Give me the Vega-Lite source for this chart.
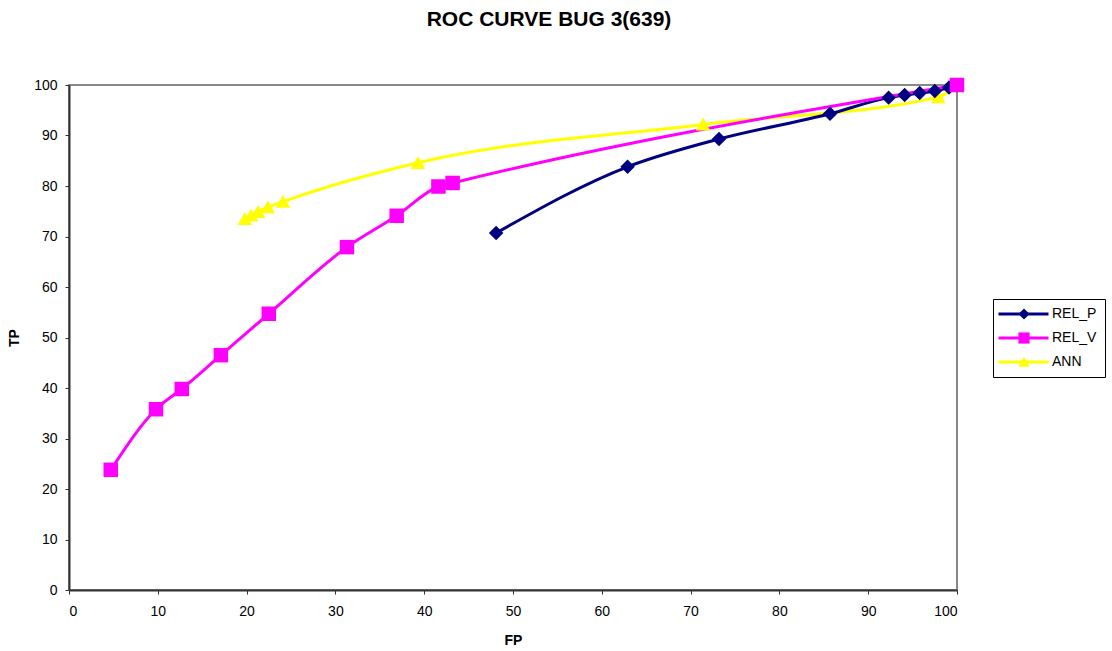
{
  "$schema": "https://vega.github.io/schema/vega-lite/v6.json",
  "width": 888,
  "height": 505,
  "autosize": {"type": "none"},
  "padding": {"left": 69, "top": 85, "right": 155, "bottom": 61},
  "background": "white",
  "title": {"text": "ROC CURVE BUG 3(639)", "font": "Liberation Sans", "fontSize": 21, "fontWeight": "bold", "color": "black", "anchor": "middle", "dx": 36, "offset": 48},
  "config": {
    "font": "Liberation Sans",
    "view": {"stroke": "#888888", "strokeWidth": 2},
    "axis": {"grid": false, "domainColor": "#333333", "domainWidth": 2, "tickColor": "#333333", "tickSize": 4, "labelFont": "Liberation Sans", "labelFontSize": 14, "labelColor": "black", "titleFont": "Liberation Sans", "titleFontSize": 14, "titleFontWeight": "bold", "titleColor": "black"}
  },
  "data": {"values": [
    {"series": "ANN", "name": "ANN", "fp": 19.8, "tp": 73.5},
    {"series": "ANN", "name": "ANN", "fp": 20.5, "tp": 74.2},
    {"series": "ANN", "name": "ANN", "fp": 21.3, "tp": 74.9},
    {"series": "ANN", "name": "ANN", "fp": 22.4, "tp": 75.8},
    {"series": "ANN", "name": "ANN", "fp": 24.1, "tp": 76.9},
    {"series": "ANN", "name": "ANN", "fp": 39.3, "tp": 84.6},
    {"series": "ANN", "name": "ANN", "fp": 71.4, "tp": 92.2},
    {"series": "ANN", "name": "ANN", "fp": 97.9, "tp": 97.6},
    {"series": "ANN", "name": "ANN", "fp": 100, "tp": 100},
    {"series": "REL_P", "name": "REL_P", "fp": 48.1, "tp": 70.7},
    {"series": "REL_P", "name": "REL_P", "fp": 62.9, "tp": 83.8},
    {"series": "REL_P", "name": "REL_P", "fp": 73.2, "tp": 89.3},
    {"series": "REL_P", "name": "REL_P", "fp": 85.7, "tp": 94.3},
    {"series": "REL_P", "name": "REL_P", "fp": 92.3, "tp": 97.5},
    {"series": "REL_P", "name": "REL_P", "fp": 94.1, "tp": 98.0},
    {"series": "REL_P", "name": "REL_P", "fp": 95.8, "tp": 98.4},
    {"series": "REL_P", "name": "REL_P", "fp": 97.5, "tp": 98.8},
    {"series": "REL_P", "name": "REL_P", "fp": 99.1, "tp": 99.5},
    {"series": "REL_P", "name": "REL_P", "fp": 100, "tp": 100},
    {"series": "REL_V", "name": "REL_V", "fp": 4.7, "tp": 23.8},
    {"series": "REL_V", "name": "REL_V", "fp": 9.8, "tp": 35.8},
    {"series": "REL_V", "name": "REL_V", "fp": 12.7, "tp": 39.8},
    {"series": "REL_V", "name": "REL_V", "fp": 17.1, "tp": 46.5},
    {"series": "REL_V", "name": "REL_V", "fp": 22.5, "tp": 54.7},
    {"series": "REL_V", "name": "REL_V", "fp": 31.3, "tp": 67.9},
    {"series": "REL_V", "name": "REL_V", "fp": 36.9, "tp": 74.1},
    {"series": "REL_V", "name": "REL_V", "fp": 41.6, "tp": 79.9},
    {"series": "REL_V", "name": "REL_V", "fp": 43.2, "tp": 80.6},
    {"series": "REL_V", "name": "REL_V", "fp": 100, "tp": 100}
  ]},
  "encoding": {
    "x": {"field": "fp", "type": "quantitative", "title": "FP", "scale": {"domain": [0, 100], "nice": false}, "axis": {"values": [0,10,20,30,40,50,60,70,80,90,100], "labelPadding": 10, "titlePadding": 15}},
    "y": {"field": "tp", "type": "quantitative", "title": "TP", "scale": {"domain": [0, 100], "nice": false}, "axis": {"values": [0,10,20,30,40,50,60,70,80,90,100], "labelPadding": 8, "titlePadding": 12}}
  },
  "layer": [
    {
      "mark": {"type": "line", "interpolate": "monotone", "strokeWidth": 3},
      "encoding": {
        "color": {"field": "series", "type": "nominal", "sort": ["REL_P", "REL_V", "ANN"], "scale": {"range": ["#000080", "#FF00FF", "#FFFF00"]},
          "legend": {"title": null, "orient": "none", "legendX": 924, "legendY": 214, "symbolType": "M-1.9,0H8.1", "symbolSize": 100, "symbolStrokeWidth": 3, "labelFontSize": 14, "labelColor": "black", "labelOffset": 37, "labelExpr": "datum.label + ' '", "padding": 8, "strokeColor": "black", "rowPadding": 10}},
        "order": {"field": "fp", "type": "quantitative"}
      }
    },
    {
      "mark": {"type": "point", "filled": true, "opacity": 1, "strokeWidth": 0, "size": 210},
      "encoding": {
        "fill": {"field": "name", "type": "nominal", "scale": {"domain": ["REL_P", "REL_V", "ANN"], "range": ["#000080", "#FF00FF", "#FFFF00"]},
          "legend": {"title": null, "orient": "none", "legendX": 940, "legendY": 214, "symbolSize": 125, "symbolStrokeWidth": 0, "labelFontSize": 14, "labelExpr": "''", "padding": 8, "rowPadding": 10}},
        "shape": {"field": "name", "type": "nominal", "scale": {"domain": ["REL_P", "REL_V", "ANN"], "range": ["diamond", "square", "M0,-0.95L1,0.85L-1,0.85Z"]},
          "legend": {"title": null, "orient": "none", "legendX": 940, "legendY": 214, "symbolSize": 125, "symbolStrokeWidth": 0, "labelFontSize": 14, "labelExpr": "''", "padding": 8, "rowPadding": 10}}
      }
    }
  ]
}
